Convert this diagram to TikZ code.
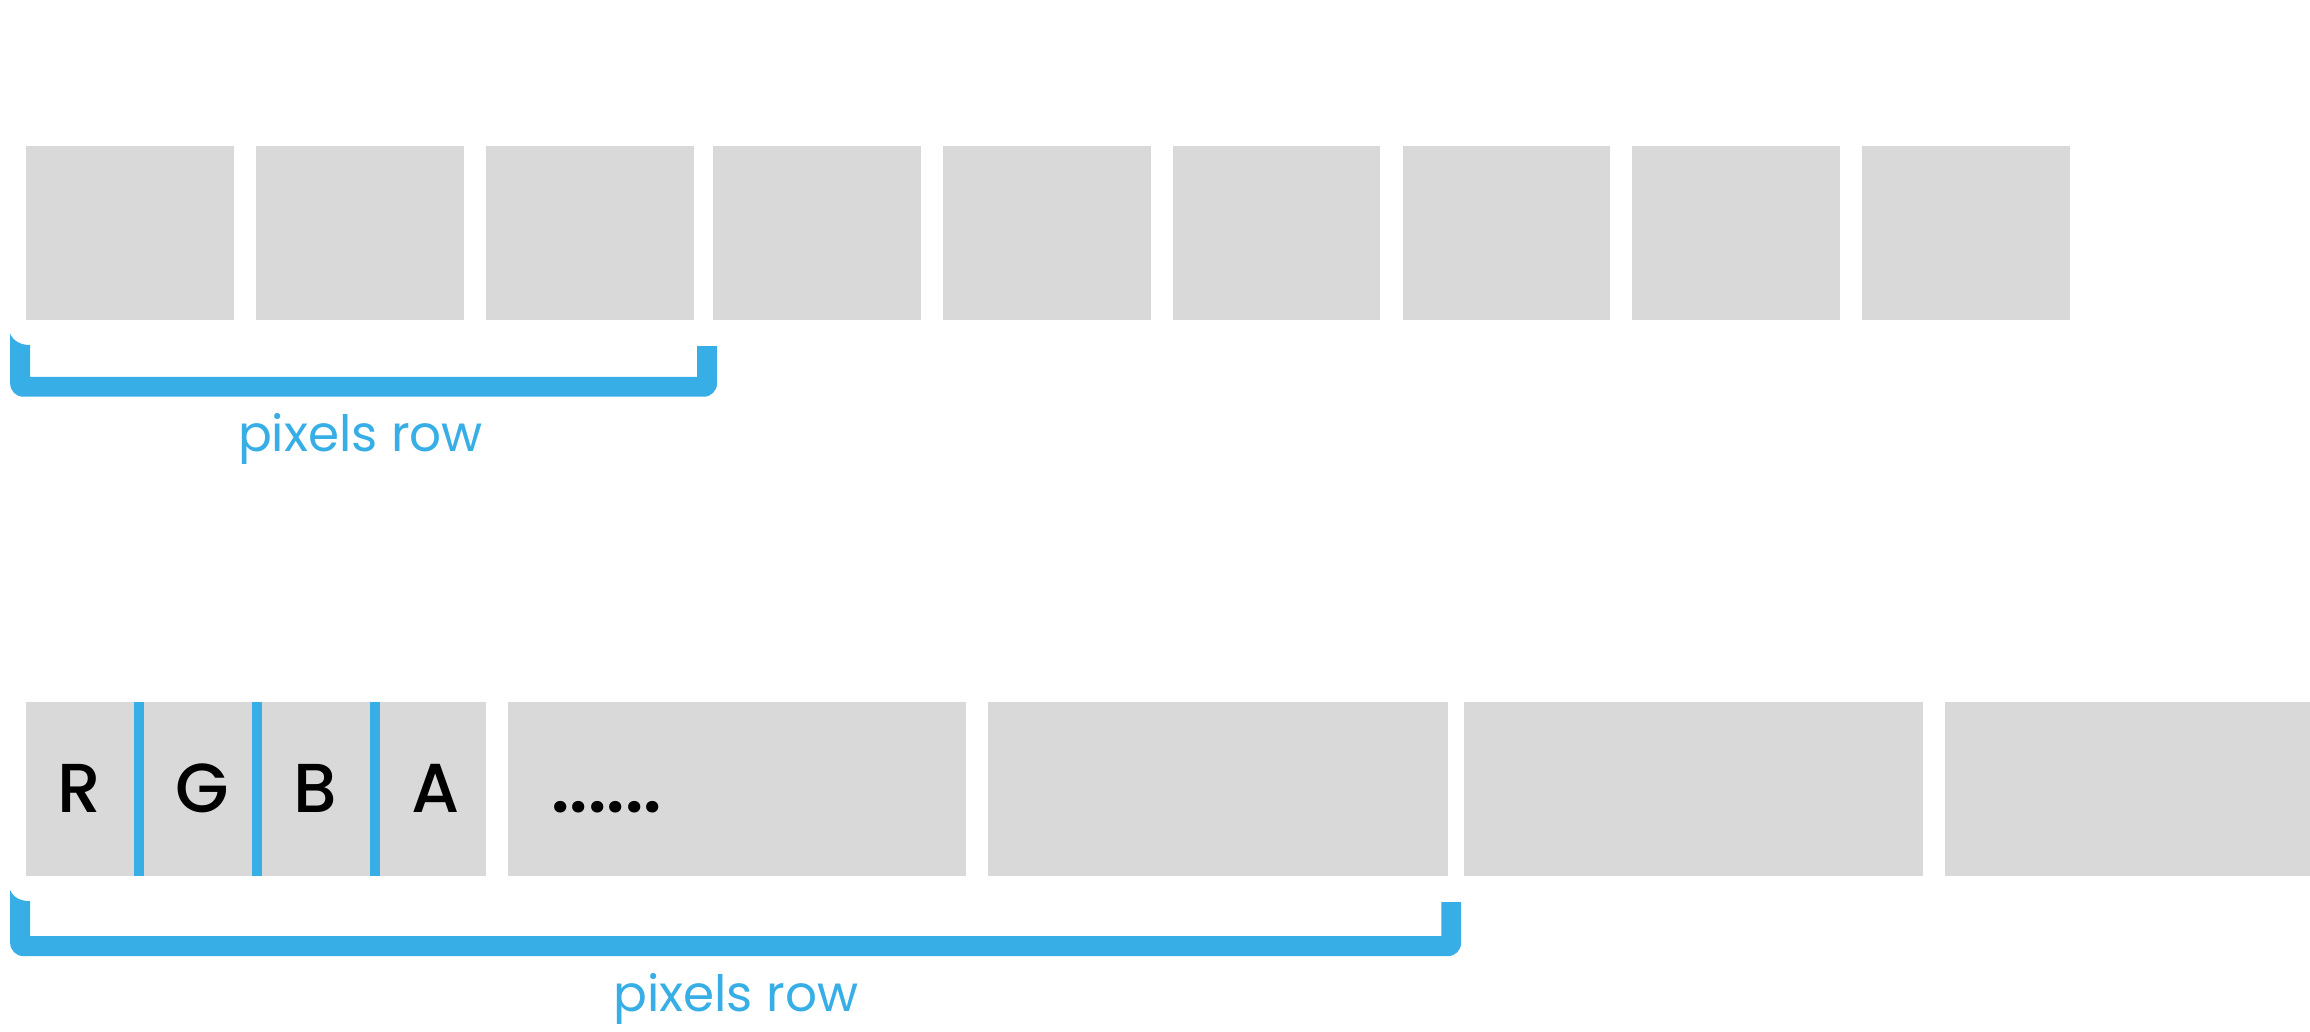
\documentclass[tikz,border=0pt]{standalone}
\usepackage{fontspec}
\setmainfont{Poppins}
\newfontfamily\lightf{Poppins}
\IfFontExistsTF{Poppins Medium}{\newfontfamily\medf{Poppins Medium}}{\newfontfamily\medf{Poppins}}
\IfFontExistsTF{Poppins SemiBold}{\newfontfamily\semif{Poppins SemiBold}}{\newfontfamily\semif{Poppins}[FakeBold=1.5]}
\definecolor{cellgray}{HTML}{D9D9D9}
\definecolor{brblue}{HTML}{37AEE6}
\tikzset{
  cell/.style={fill=cellgray},
  lbl/.style={anchor=base, inner sep=0pt, text=brblue, font=\lightf\fontsize{17pt}{20pt}\selectfont},
  chan/.style={anchor=base, inner sep=0pt, text=black, font=\medf\fontsize{23.5pt}{28pt}\selectfont},
  dotsty/.style={anchor=base west, inner sep=0pt, text=black, font=\semif\fontsize{24pt}{28pt}\selectfont},
}
\begin{document}
\begin{tikzpicture}[x=0.5pt,y=-0.5pt]
\useasboundingbox (0,0) rectangle (1568,700);
% top row of pixels
\foreach \a/\b in {17.8/158.9,173.7/314.9,330/471.2,484/625,640/781,796/937,952.5/1093.1,1108.1/1249.2,1264.1/1405.2}
  \fill[cell] (\a,99.1) rectangle (\b,217.2);
% top bracket
\fill[brblue] (6.9,226.5) .. controls (9,231.5) and (14,234.2) .. (20.4,234.2)
  -- (20.4,255.9) -- (473.2,255.9) -- (473.2,234.9) -- (486.7,234.9) -- (486.7,260.3)
  .. controls (486.7,265.3) and (482.7,269.3) .. (477.7,269.3) -- (15.9,269.3)
  .. controls (10.9,269.3) and (6.9,265.3) .. (6.9,260.3) -- cycle;
\node[lbl] (t1) at (244.7,306.6) {pixels row};
% bottom row of bytes
\foreach \a/\b in {17.8/330,344.8/655.8,670.7/982.9,993.8/1305.4,1320.4/1570}
  \fill[cell] (\a,476.6) rectangle (\b,594.5);
\foreach \a/\b in {90.8/97.7,171.1/178,251/258}
  \fill[brblue] (\a,476.6) rectangle (\b,594.5);
\node[chan] (r) at (53.6,551.7) {R};
\node[chan] (g) at (137.2,551.7) {G};
\node[chan] (b) at (214.2,551.7) {B};
\node[chan] (a) at (295.5,551.7) {A};
\node[dotsty] (dots) at (374,551.7) {......};
% bottom bracket
\fill[brblue] (6.9,604.2) .. controls (9,609.2) and (14,611.7) .. (20.4,611.7)
  -- (20.4,635.4) -- (978.3,635.4) -- (978.3,612.3) -- (991.8,612.3) -- (991.8,640)
  .. controls (991.8,645) and (987.8,649) .. (982.8,649) -- (15.9,649)
  .. controls (10.9,649) and (6.9,645) .. (6.9,640) -- cycle;
\node[lbl] (t2) at (499.5,686.8) {pixels row};
\end{tikzpicture}
\end{document}
